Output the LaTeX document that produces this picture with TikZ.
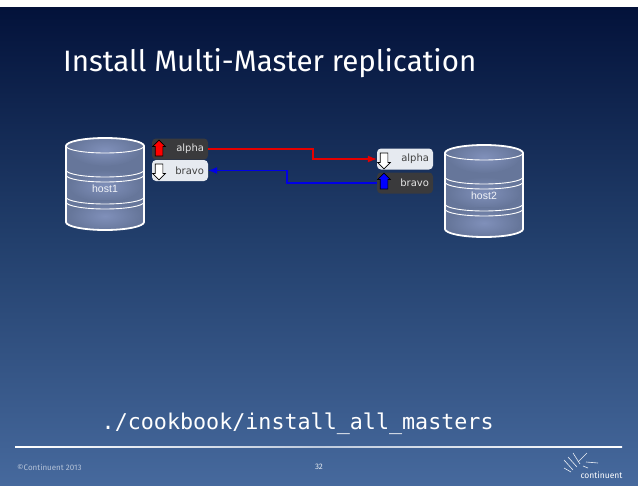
\documentclass[tikz,border=0pt]{standalone}
\usepackage{fontspec}
\setmainfont{Fira Sans}
\setmonofont{DejaVu Sans Mono}
\newfontfamily\hostfont{Liberation Sans}
\newfontfamily\dirfont{DejaVu Sans}
\usepackage{xcolor}
\usetikzlibrary{arrows.meta,shapes.arrows}
\definecolor{slidetop}{HTML}{03123A}
\definecolor{slidemid}{HTML}{223F6C}
\definecolor{slidelow}{HTML}{46699D}
\definecolor{boxdark}{HTML}{3A3A3C}
\definecolor{boxlight}{HTML}{E6EAF0}
\definecolor{diskside}{HTML}{66769A}
\definecolor{diskglow}{HTML}{8090BA}
\tikzset{
  dirbox/.style={rounded corners=4pt,minimum width=56pt,minimum height=21pt,inner sep=0pt,font=\dirfont\fontsize{10}{11}\selectfont,text width=48pt,align=right},
  masterbox/.style={dirbox,fill=boxdark,text=white!90!black},
  slavebox/.style={dirbox,fill=boxlight,text=black!75},
  updir/.style={single arrow,draw=black,line width=.7pt,shape border rotate=90,minimum height=16pt,inner sep=3.5pt,single arrow head extend=2.5pt,single arrow tip angle=90},
  downdir/.style={updir,shape border rotate=270,fill=white},
  replink/.style={line width=1.1pt,-{Latex[length=9pt,width=7pt]}},
  hostname/.style={font=\hostfont\fontsize{10.5}{12}\selectfont,text=white!90!diskglow}
}
% one disk stack, #1 = left x, #2 = top y (y axis points down, so arcs run clockwise)
\newcommand{\diskstack}[2]{
  \begin{scope}[shift={(#1,#2)}]
    \begin{scope}
      \clip (0,8) -- (0,84) arc[start angle=180,end angle=0,x radius=39,y radius=8] -- (78,8) arc[start angle=0,end angle=-180,x radius=39,y radius=8] -- cycle;
      \fill[diskside] (0,0) rectangle (78,92);
      \foreach \yglow in {12,48,78}
        \shade[inner color=diskglow,outer color=diskside] (39,\yglow) ellipse[x radius=36,y radius=16];
    \end{scope}
    \draw[white,line width=1.8pt] (0,8) -- (0,84) arc[start angle=180,end angle=0,x radius=39,y radius=8] -- (78,8) arc[start angle=0,end angle=-180,x radius=39,y radius=8] -- cycle;
    \foreach \ydisk in {8,32,37,59,64}
      \draw[white,line width=.9pt] (0,\ydisk) arc[start angle=180,end angle=0,x radius=39,y radius=7];
  \end{scope}
}
\begin{document}
\begin{tikzpicture}[x=1pt,y=-1pt]
\useasboundingbox (0,0) rectangle (638,493);
\fill[white] (0,0) rectangle (638,493);
\shade[top color=slidetop,bottom color=slidemid] (0,7) rectangle (638,240);
\shade[top color=slidemid,bottom color=slidelow] (0,240) rectangle (638,485);

\node[anchor=west,text=white,inner sep=0pt,font=\fontsize{29.5}{32}\selectfont] (title) at (63,63) {Install Multi-Master replication};

\diskstack{66}{138}
\diskstack{445}{145}
\node[hostname] (host1) at (105,189) {host1};
\node[hostname] (host2) at (484,196) {host2};

% left side
\node[masterbox] (alphaL) at (180,149) {alpha};
\node[slavebox] (bravoL) at (180,170.5) {bravo};
\node[updir,fill=red] (alphaLdir) at (159,150) {};
\node[downdir] (bravoLdir) at (159,170) {};

% right side
\node[slavebox] (alphaR) at (405,159) {alpha};
\node[masterbox] (bravoR) at (405,183) {bravo};
\node[downdir] (alphaRdir) at (384,159) {};
\node[updir,fill=blue] (bravoRdir) at (384,183) {};

\draw[replink,red!90!black] (alphaL.east) -- (313,149) -- (313,159) -- (alphaR.west);
\draw[replink,blue!90!black] (bravoR.west) -- (287,183) -- (287,170.5) -- (bravoL.east);

\node[anchor=west,text=white,inner sep=0pt,font=\ttfamily\fontsize{21.7}{24}\selectfont] (command) at (101.5,424) {./cookbook/install\_all\_masters};

\shade[left color=white,right color=white,middle color=white!65!slidelow] (15,446.6) rectangle (622,447.8);
\node[anchor=west,inner sep=0pt,text=white!60!slidelow,font=\fontsize{8}{9}\selectfont] (copyright) at (17,467) {©Continuent 2013};
\node[text=white!85!slidelow,font=\fontsize{8}{9}\selectfont] (page) at (319,467) {32};

% logo
\node[text=white,font=\fontsize{8.5}{10}\selectfont] (logo) at (601.5,475) {continuent};
\foreach \xa/\ya/\xb/\yb in {564/460/573/470,568/457/577/467,573/453/580/464,578/462/587/453,586/462/598/463,564/468/571/472,583/466/588/468}
  \draw[white!90!slidelow,line width=.6pt] (\xa,\ya) -- (\xb,\yb);
\end{tikzpicture}
\end{document}
